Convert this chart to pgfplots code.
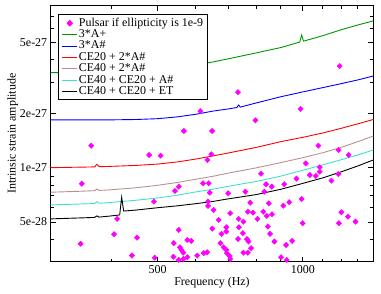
\documentclass[border=0pt]{standalone}
\usepackage{fontspec}
\setmainfont{Liberation Serif}
\usepackage{pgfplots}
\usepackage{pgfplotstable}
\pgfplotsset{compat=1.18}
\definecolor{cgreen}{RGB}{0,150,0}
\definecolor{cbrown}{RGB}{188,143,143}
\definecolor{cturq}{RGB}{64,224,208}
\definecolor{cmag}{RGB}{255,0,255}

\pgfplotstableread{
f h
566.6 1.605e-27
364 1.33e-27
613 2.07e-27
1192 3.69e-27
733.6 2.64e-27
989 2.13e-27
797.5 1.84e-27
648.4 1.605e-27
1077 1.33e-27
480 1.18e-27
507 1.17e-27
348 8.17e-28
553 7.86e-28
543 7.44e-28
491 6.49e-28
412 5.20e-28
553 4.51e-28
406 4.27e-28
453 4.09e-28
346 3.78e-28
540 3.81e-28
576 3.97e-28
587 3.92e-28
556 3.61e-28
560 3.49e-28
565 3.37e-28
442 3.25e-28
493 3.16e-28
539 3.20e-28
553 3.07e-28
565 3.11e-28
576 3.18e-28
604 3.25e-28
646 1.19e-27
634 1.107e-27
1186 1.258e-27
1244 1.18e-27
1014 1.06e-27
1084 1.008e-27
1084 9.52e-28
1034 9.13e-28
1064 9.02e-28
819 9.28e-28
970 8.71e-28
1185 9.24e-28
1146 8.49e-28
621 8.21e-28
638 8.21e-28
839 8.11e-28
862 7.86e-28
915 8.11e-28
641 7.28e-28
700 7.22e-28
760 7.37e-28
832 7.37e-28
778 6.40e-28
850 6.35e-28
636 6.14e-28
636 6.49e-28
911 6.16e-28
937 6.44e-28
994 6.71e-28
653 5.83e-28
707 5.59e-28
769 5.70e-28
788 5.63e-28
828 5.70e-28
842 5.40e-28
863 5.52e-28
805 5.20e-28
736 5.20e-28
669 5.13e-28
753 5.02e-28
1202 5.66e-28
1240 5.35e-28
1286 5.02e-28
1188 4.92e-28
999 4.92e-28
694 4.67e-28
649 4.59e-28
737 4.67e-28
846 4.71e-28
694 4.42e-28
678 4.29e-28
751 4.33e-28
855 4.29e-28
734 4.02e-28
766 4.01e-28
873 3.89e-28
674.5 3.81e-28
771.5 3.89e-28
950 3.92e-28
923 3.72e-28
685 3.61e-28
781 3.57e-28
694 3.49e-28
696 3.35e-28
705 3.23e-28
753 3.37e-28
769 3.37e-28
623 3.35e-28
633 3.39e-28
901 3.18e-28
926 3.07e-28
707 3.11e-28
}\pulsars

\pgfplotstableread{
f h
300 3.39e-27
350 3.40e-27
400 3.42e-27
450 3.45e-27
500 3.50e-27
550 3.60e-27
600 3.74e-27
650 3.89e-27
700 4.05e-27
800 4.37e-27
900 4.68e-27
985 5.02e-27
994 5.49e-27
1003 5.08e-27
1100 5.45e-27
1200 5.88e-27
1300 6.25e-27
1400 6.59e-27
}\greenA

\pgfplotstableread{
f h
300 1.85e-27
350 1.85e-27
400 1.852e-27
450 1.86e-27
500 1.88e-27
550 1.925e-27
600 1.99e-27
650 2.07e-27
700 2.13e-27
730 2.17e-27
736 2.24e-27
742 2.18e-27
800 2.30e-27
900 2.49e-27
1000 2.65e-27
1100 2.80e-27
1200 2.945e-27
1300 3.09e-27
1400 3.25e-27
}\blueA

\pgfplotstableread{
f h
300 1.003e-27
350 1.010e-27
370 1.013e-27
374 1.047e-27
378 1.015e-27
400 1.02e-27
450 1.032e-27
500 1.05e-27
550 1.08e-27
600 1.12e-27
650 1.165e-27
700 1.21e-27
800 1.30e-27
900 1.40e-27
1000 1.48e-27
1100 1.565e-27
1200 1.66e-27
1300 1.76e-27
1400 1.86e-27
}\redA

\pgfplotstableread{
f h
300 7.32e-28
350 7.42e-28
370 7.47e-28
374 7.63e-28
378 7.49e-28
400 7.55e-28
450 7.75e-28
500 8.00e-28
550 8.30e-28
600 8.65e-28
650 8.97e-28
700 9.35e-28
800 1.00e-27
900 1.07e-27
1000 1.14e-27
1100 1.215e-27
1200 1.30e-27
1300 1.40e-27
1400 1.505e-27
}\brownA

\pgfplotstableread{
f h
300 6.22e-28
350 6.30e-28
370 6.33e-28
374 6.49e-28
378 6.35e-28
400 6.42e-28
450 6.60e-28
500 6.80e-28
550 7.05e-28
600 7.35e-28
650 7.60e-28
700 7.90e-28
800 8.40e-28
900 9.00e-28
1000 9.70e-28
1100 1.04e-27
1200 1.11e-27
1300 1.18e-27
1400 1.258e-27
}\turqA

\pgfplotstableread{
f h
300 5.20e-28
350 5.27e-28
370 5.30e-28
374 5.40e-28
378 5.32e-28
400 5.40e-28
417 5.47e-28
421 6.86e-28
425 5.75e-28
450 5.82e-28
500 6.00e-28
550 6.15e-28
600 6.32e-28
650 6.50e-28
700 6.72e-28
800 7.10e-28
900 7.60e-28
1000 8.20e-28
1100 8.80e-28
1200 9.50e-28
1300 1.025e-27
1400 1.107e-27
}\blackA

\begin{document}
\begin{tikzpicture}[font=\fontsize{12}{14}\selectfont]
\begin{loglogaxis}[
  name=ax,
  scale only axis, width=322.6bp, height=256bp,
  xmin=300, xmax=1400, ymin=3e-28, ymax=8e-27,
  xtick={500,1000}, xticklabels={500,1000},
  minor xtick={400,600,700,800,900,1100,1200,1300},
  ytick={5e-28,1e-27,2e-27,5e-27}, yticklabels={5e-28,1e-27,2e-27,5e-27},
  minor ytick={4e-28,6e-28,7e-28,8e-28,9e-28,3e-27,4e-27,6e-27,7e-27},
  tick align=inside, xtick pos=both, ytick pos=both,
  major tick length=5bp, minor tick length=3bp,
  tick style={black, line width=0.8bp},
  axis line style={line width=1.2bp},
  xlabel={Frequency (Hz)}, ylabel={Intrinsic strain amplitude},
  xlabel style={at={(axis description cs:0.5,-0.091)}, anchor=base},
  ylabel style={at={(axis description cs:-0.1178,0.5)}, anchor=center},
  legend image code/.code={\draw[mark repeat=2,mark phase=2,#1] plot coordinates {(0bp,0bp) (7.35bp,0bp) (14.7bp,0bp)};},
  legend cell align=left,
  legend style={at={(0.024,0.966)}, anchor=north west, draw=black, line width=1bp,
    font=\fontsize{12}{14}\selectfont, inner xsep=3bp, inner ysep=2.5bp,
    nodes={inner xsep=1.4bp, inner ysep=0.3bp, text height=8.4bp, text depth=2.4bp}},
]
\addplot[only marks, mark=diamond*, mark size=2.7bp, mark options={xscale=1.3, draw=cmag, fill=cmag}, draw=cmag, fill=cmag] table[x=f,y=h] {\pulsars};
\addlegendentry{Pulsar if ellipticity is 1e-9}
\addplot[no markers, cgreen, line width=0.9bp] table[x=f,y=h] {\greenA};
\addlegendentry{3*A+}
\addplot[no markers, blue, line width=0.9bp] table[x=f,y=h] {\blueA};
\addlegendentry{3*A\#}
\addplot[no markers, red, line width=0.9bp] table[x=f,y=h] {\redA};
\addlegendentry{CE20 + 2*A\#}
\addplot[no markers, cbrown, line width=0.9bp] table[x=f,y=h] {\brownA};
\addlegendentry{CE40 + 2*A\#}
\addplot[no markers, cturq, line width=0.9bp] table[x=f,y=h] {\turqA};
\addlegendentry{CE40 + CE20 + A\#}
\addplot[no markers, black, line width=0.9bp] table[x=f,y=h] {\blackA};
\addlegendentry{CE40 + CE20 + ET}
\end{loglogaxis}
\pgfresetboundingbox
\path ([shift={(-50.7bp,-32.3bp)}]ax.south west) rectangle ([shift={(7.7bp,5.7bp)}]ax.north east);
\end{tikzpicture}
\end{document}
